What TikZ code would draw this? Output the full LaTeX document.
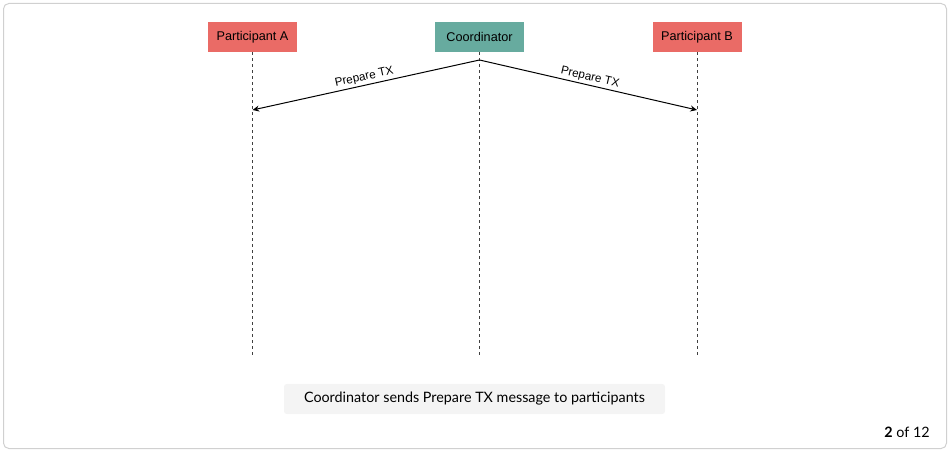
\documentclass[tikz,border=0pt]{standalone}
\usepackage{fontspec}
\setmainfont{Liberation Sans}
\newfontfamily\captionfont{Lato}
\usetikzlibrary{arrows.meta}
\definecolor{partred}{HTML}{EA6B66}
\definecolor{coordgreen}{HTML}{67AB9F}
\definecolor{framegray}{HTML}{D0D0D0}
\definecolor{notegray}{HTML}{F4F4F4}
\begin{document}
\begin{tikzpicture}[
    x=0.75pt, y=-0.75pt,
    actor/.style={rectangle, minimum width=66.75pt, minimum height=22.5pt, inner sep=0pt, font=\fontsize{9.5}{11}\selectfont},
    lifeline/.style={dash pattern=on 2.25pt off 2.25pt, line width=0.75pt, black!75},
    message/.style={-{Stealth[length=5pt, width=4.5pt]}, line width=0.75pt},
    msglabel/.style={sloped, above, inner sep=1.5pt, font=\fontsize{8.75}{10}\selectfont},
    note/.style={rectangle, rounded corners=2pt, fill=notegray, minimum width=285.75pt, minimum height=22.5pt, inner sep=0pt, font=\captionfont\fontsize{10.75}{12}\selectfont}
]
\useasboundingbox (0,0) rectangle (950,452);
\draw[framegray, line width=0.75pt, rounded corners=4pt] (3.5,3.5) rectangle (946.5,448.5);
% actors
\node[actor, fill=partred] (pa) at (252.5,37) {Participant A};
\node[actor, fill=coordgreen] (co) at (479.5,37) {Coordinator};
\node[actor, fill=partred] (pb) at (697,37) {Participant B};
% lifelines
\coordinate (paend) at (252.5,357);
\coordinate (coend) at (479.5,357);
\coordinate (pbend) at (697,357);
\draw[lifeline] (pa.south) -- (paend);
\draw[lifeline] (co.south) -- (coend);
\draw[lifeline] (pb.south) -- (pbend);
% messages
\coordinate (cosend) at (479.5,60);
\coordinate (parecv) at (252.5,110);
\coordinate (pbrecv) at (697,110);
\draw[message] (cosend) -- node[msglabel] {Prepare TX} (parecv);
\draw[message] (cosend) -- node[msglabel] {Prepare TX} (pbrecv);
% caption
\node[note] (caption) at (474.5,399) {Coordinator sends Prepare TX message to participants};
\node[anchor=east, inner sep=0pt, font=\captionfont\fontsize{10.75}{12}\selectfont] (pager) at (930,432) {\textbf{2} of 12};
\end{tikzpicture}
\end{document}
